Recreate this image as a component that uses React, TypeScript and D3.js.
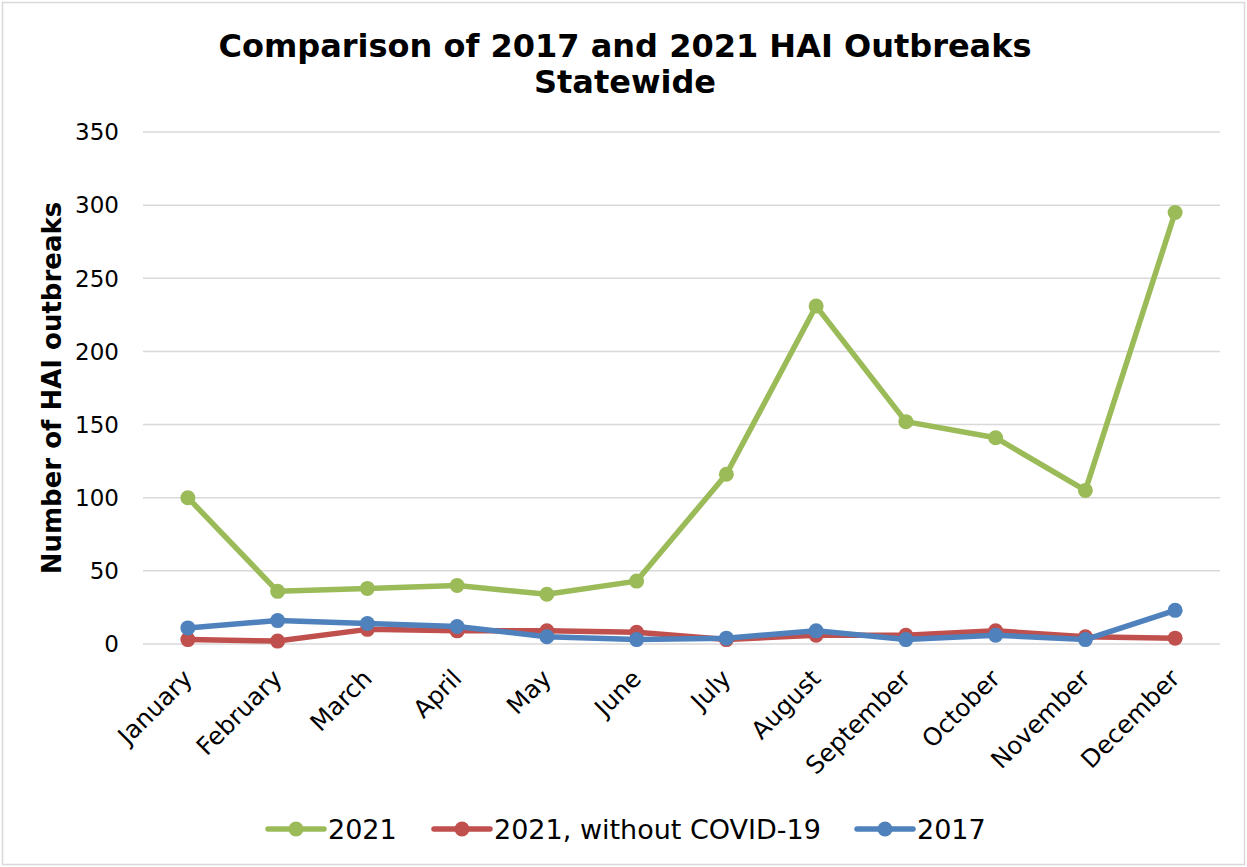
import React, { useEffect, useRef } from 'react';
import * as d3 from 'd3';

const months = ['January', 'February', 'March', 'April', 'May', 'June', 'July', 'August', 'September', 'October', 'November', 'December'];
const y2021 = [100, 36, 38, 40, 34, 43, 116, 231, 152, 141, 105, 295];
const y2021NoCovid = [3, 2, 10, 9, 9, 8, 3, 6, 6, 9, 5, 4];
const y2017 = [11, 16, 14, 12, 5, 3, 4, 9, 3, 6, 3, 23];
const yTicks = [0, 50, 100, 150, 200, 250, 300, 350];

const series = [
  { name: '2021', values: y2021, color: '#9BBB59' },
  { name: '2021, without COVID-19', values: y2021NoCovid, color: '#C0504D' },
  { name: '2017', values: y2017, color: '#4F81BD' },
];

const W = 1247;
const H = 867;
const FONT = 'DejaVu Sans, Verdana, sans-serif';

export default function App() {
  const ref = useRef<SVGSVGElement>(null);

  useEffect(() => {
    const svg = d3.select(ref.current);
    svg.selectAll('*').remove();

    const margin = { left: 143, right: 27, top: 132, bottom: 223 };
    const x = d3
      .scaleBand()
      .domain(months)
      .range([margin.left, W - margin.right]);
    const y = d3
      .scaleLinear()
      .domain([0, 350])
      .range([H - margin.bottom, margin.top]);

    // outer border
    svg.append('rect')
      .attr('x', 2.5).attr('y', 2.5)
      .attr('width', W - 5).attr('height', H - 5)
      .attr('fill', '#fff').attr('stroke', '#D9D9D9').attr('stroke-width', 1.5);

    // title
    const title = svg.append('text')
      .attr('text-anchor', 'middle')
      .attr('font-family', FONT)
      .attr('font-weight', 'bold')
      .attr('font-size', 32)
      .attr('fill', '#000');
    title.append('tspan').attr('x', 625).attr('y', 57).text('Comparison of 2017 and 2021 HAI Outbreaks');
    title.append('tspan').attr('x', 625).attr('y', 93).text('Statewide');

    // gridlines
    svg.append('g')
      .selectAll('line')
      .data(yTicks)
      .enter()
      .append('line')
      .attr('x1', margin.left)
      .attr('x2', W - margin.right)
      .attr('y1', (d) => y(d))
      .attr('y2', (d) => y(d))
      .attr('stroke', '#D9D9D9')
      .attr('stroke-width', 1.5);

    // y tick labels
    svg.append('g')
      .selectAll('text')
      .data(yTicks)
      .enter()
      .append('text')
      .attr('x', 119)
      .attr('y', (d) => y(d))
      .attr('dy', '0.36em')
      .attr('text-anchor', 'end')
      .attr('font-family', FONT)
      .attr('font-size', 23)
      .attr('fill', '#000')
      .text((d) => d);

    // y axis title
    svg.append('text')
      .attr('transform', `translate(61,${(y(0) + y(350)) / 2}) rotate(-90)`)
      .attr('text-anchor', 'middle')
      .attr('font-family', FONT)
      .attr('font-weight', 'bold')
      .attr('font-size', 26)
      .attr('fill', '#000')
      .text('Number of HAI outbreaks');

    // x labels
    svg.append('g')
      .selectAll('text')
      .data(months)
      .enter()
      .append('text')
      .attr('transform', (d) => `translate(${x(d)! + x.bandwidth() / 2 + 6},${y(0) + 36}) rotate(-45)`)
      .attr('text-anchor', 'end')
      .attr('font-family', FONT)
      .attr('font-size', 24.5)
      .attr('fill', '#000')
      .text((d) => d);

    const cx = (i: number) => x(months[i])! + x.bandwidth() / 2;
    const line = d3
      .line<number>()
      .x((_, i) => cx(i))
      .y((d) => y(d));

    series.forEach((s) => {
      const g = svg.append('g');
      g.append('path')
        .datum(s.values)
        .attr('d', line)
        .attr('fill', 'none')
        .attr('stroke', s.color)
        .attr('stroke-width', 5.5)
        .attr('stroke-linejoin', 'round')
        .attr('stroke-linecap', 'round');
      g.selectAll('circle')
        .data(s.values)
        .enter()
        .append('circle')
        .attr('cx', (_, i) => cx(i))
        .attr('cy', (d) => y(d))
        .attr('r', 7.5)
        .attr('fill', s.color);
    });

    // legend
    const legendX = [268, 434, 857];
    const ly = 829;
    series.forEach((s, i) => {
      const g = svg.append('g').attr('transform', `translate(${legendX[i]},${ly})`);
      g.append('line')
        .attr('x1', 0).attr('x2', 56)
        .attr('y1', 0).attr('y2', 0)
        .attr('stroke', s.color)
        .attr('stroke-width', 5.5)
        .attr('stroke-linecap', 'round');
      g.append('circle').attr('cx', 28).attr('cy', 0).attr('r', 7.5).attr('fill', s.color);
      g.append('text')
        .attr('x', 60)
        .attr('y', 0)
        .attr('dy', '0.36em')
        .attr('font-family', FONT)
        .attr('font-size', 27)
        .attr('fill', '#000')
        .text(s.name);
    });
  }, []);

  return (
    <svg
      ref={ref}
      width={W}
      height={H}
      style={{ position: 'absolute', left: 0, top: 0, background: '#fff' }}
    ></svg>
  );
}
